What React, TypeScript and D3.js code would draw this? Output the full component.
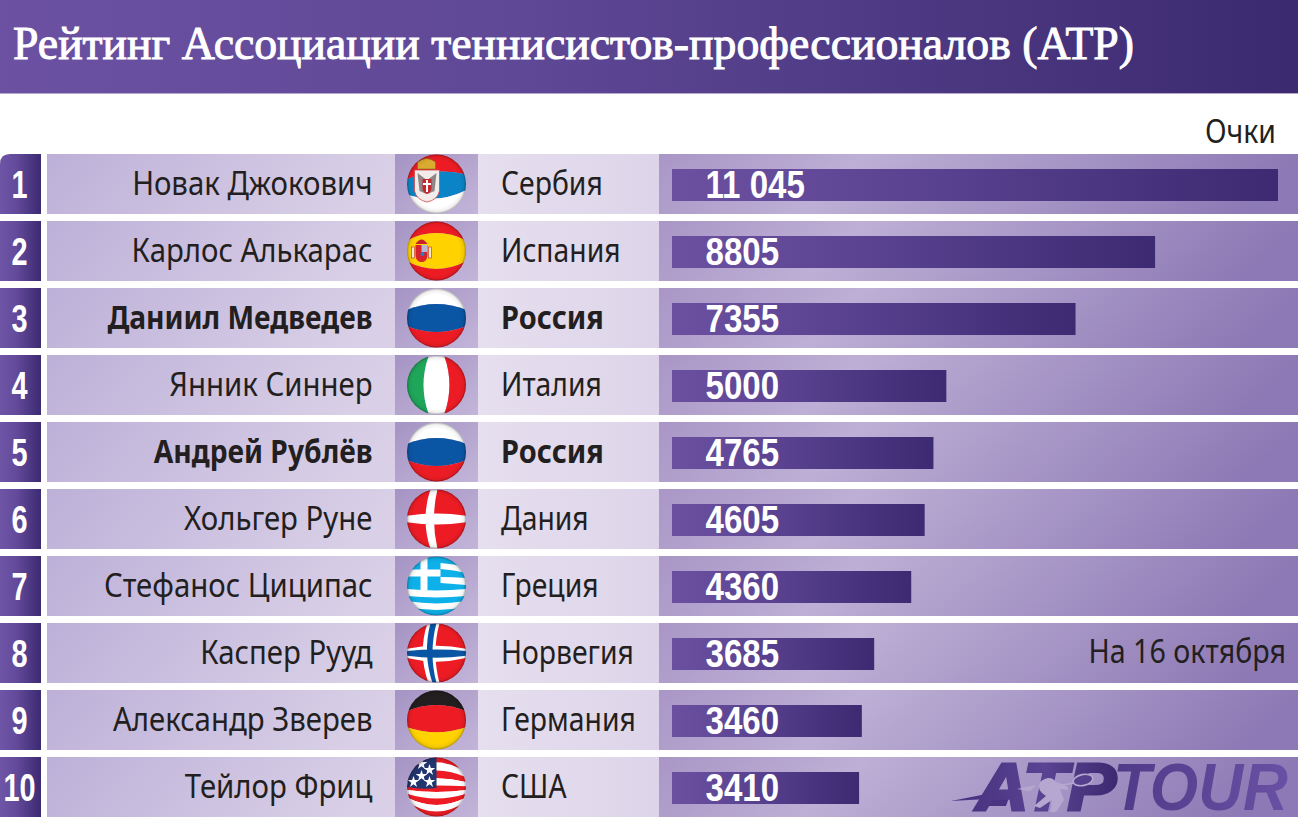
import * as d3 from 'd3';

const ranks = [1, 2, 3, 4, 5, 6, 7, 8, 9, 10];
const names = ['Новак Джокович', 'Карлос Алькарас', 'Даниил Медведев', 'Янник Синнер', 'Андрей Рублёв', 'Хольгер Руне', 'Стефанос Циципас', 'Каспер Рууд', 'Александр Зверев', 'Тейлор Фриц'];
const countries = ['Сербия', 'Испания', 'Россия', 'Италия', 'Россия', 'Дания', 'Греция', 'Норвегия', 'Германия', 'США'];
const points = [11045, 8805, 7355, 5000, 4765, 4605, 4360, 3685, 3460, 3410];
const pointLabels = ['11 045', '8805', '7355', '5000', '4765', '4605', '4360', '3685', '3460', '3410'];
const flags = ['rs', 'es', 'ru', 'it', 'ru', 'dk', 'gr', 'no', 'de', 'us'];

const TITLE = 'Рейтинг Ассоциации теннисистов-профессионалов (ATP)';
const SANS = "'Noto Sans', sans-serif";
const NUM = "'Liberation Sans', sans-serif";
const INK = '#231f20';
const R = 29.5;

const x = d3.scaleLinear().domain([0, 11045]).range([672, 1278]);
const y = d3.scaleBand<number>().domain(ranks).range([154, 817]).paddingInner(7 / 67);

// sphere-like horizontal band between two levels (-1..1 of radius)
function band(v0: number, v1: number) {
  const edge = (v: number) => v * R * 0.72;
  const ctrl = (v: number) => 2 * v * R * 1.22 - edge(v);
  return `M${-R},${edge(v0)}Q0,${ctrl(v0)} ${R},${edge(v0)}L${R},${edge(v1)}Q0,${ctrl(v1)} ${-R},${edge(v1)}Z`;
}

function Bands({ colors, stops }: { colors: string[]; stops: number[] }) {
  return (
    <>
      {colors.map((c, i) => (
        <path key={i} d={band(stops[i], stops[i + 1])} fill={c} />
      ))}
    </>
  );
}

function FlagArt({ code }: { code: string }) {
  const star = d3.symbol().type(d3.symbolStar).size(42)() as string;
  if (code === 'ru') return <Bands colors={['#fff', '#0a55a4', '#ed1c24']} stops={[-1.6, -0.39, 0.39, 1.6]} />;
  if (code === 'de') return <Bands colors={['#231f20', '#ed1c24', '#ffd200']} stops={[-1.6, -0.42, 0.34, 1.6]} />;
  if (code === 'it') return <g transform="rotate(-90)"><Bands colors={['#1fa65a', '#fff', '#ed1c24']} stops={[-1.6, -0.36, 0.36, 1.6]} /></g>;
  if (code === 'es') {
    return (
      <>
        <Bands colors={['#ed1c24', '#ffd200', '#ed1c24']} stops={[-1.6, -0.5, 0.5, 1.6]} />
        <path d="M-21,-6H-9V5Q-10,11 -15,11Q-20,11 -21,5Z" fill="#d8232a" />
        <rect x={-15} y={-6} width={6} height={7} fill="#b9b6d6" />
        <circle cx={-14} cy={3} r={2} fill="#2a7ec0" />
        <rect x={-25} y={-4} width={3} height={11} fill="#f3ead2" stroke="#c8202a" strokeWidth={0.6} />
        <rect x={-8} y={-4} width={3} height={11} fill="#f3ead2" stroke="#c8202a" strokeWidth={0.6} />
        <path d="M-21,-7Q-15,-16 -9,-7Z" fill="#c8202a" />
      </>
    );
  }
  if (code === 'rs') {
    return (
      <>
        <g transform="rotate(-5)">
          <Bands colors={['#ed1c24', '#0a84c6', '#fff']} stops={[-1.6, -0.34, 0.4, 1.6]} />
        </g>
        <path d="M-22,-14H3V7Q1,16 -9.5,18Q-20,16 -22,7Z" fill="#f1ecea" stroke="#d9454a" strokeWidth={0.8} />
        <path d="M-19,-11L-11,-5L-10,10L-17,7Z" fill="#8f8687" />
        <path d="M0,-11L-8,-5L-9,10L-2,7Z" fill="#8f8687" />
        <path d="M-14,-5H-5V5Q-6,9 -9.5,10Q-13,9 -14,5Z" fill="#c6262c" />
        <path d="M-10.5,-4H-8.5V-1H-5.5V1H-8.5V8H-10.5V1H-13.5V-1H-10.5Z" fill="#fff" />
        <path d="M-19,-15L-19,-22Q-10,-29 -1,-22L-1,-15Z" fill="#d9ab2f" stroke="#8a6a1d" strokeWidth={0.6} />
      </>
    );
  }
  if (code === 'dk') {
    return (
      <>
        <rect x={-R} y={-R} width={2 * R} height={2 * R} fill="#ed1c24" />
        <path d="M-6,-30Q-16,0 -6,30H1Q-6,0 1,-30Z" fill="#fff" />
        <path d={band(-0.15, 0.15)} fill="#fff" />
      </>
    );
  }
  if (code === 'no') {
    return (
      <>
        <rect x={-R} y={-R} width={2 * R} height={2 * R} fill="#ed1c24" />
        <path d="M-9,-30Q-19,0 -8,30H3Q-5,0 3,-30Z" fill="#fff" />
        <path d={band(-0.2, 0.24)} fill="#fff" />
        <path d="M-6,-30Q-14,0 -4,30H0Q-8,0 0,-30Z" fill="#0a55a4" />
        <path d={band(-0.1, 0.13)} fill="#0a55a4" />
      </>
    );
  }
  if (code === 'gr') {
    return (
      <>
        <rect x={-R} y={-R} width={2 * R} height={2 * R} fill="#0db0e8" />
        <path d="M4,-23Q18,-22 30,-19V-13Q18,-16 4,-17Z" fill="#fff" />
        <path d="M4,-9Q18,-9 30,-8V-1Q18,-2 4,-3Z" fill="#fff" />
        <path d="M-30,3Q0,6 30,3V10Q0,13 -30,10Z" fill="#fff" />
        <path d="M-30,15Q0,20 30,15V21Q0,27 -30,21Z" fill="#fff" />
        <path d="M-16,-30H-9V-16.500H4V-9.500H-9V4H-16V-9.500H-30V-16.500H-16Z" fill="#fff" />
      </>
    );
  }
  // us
  const stripeStops = [-1.6, -0.68, -0.46, -0.24, -0.04, 0.14, 0.32, 0.5, 0.68, 0.86, 1.6];
  const stripeColors = stripeStops.slice(1).map((_, i) => (i % 2 === 0 ? '#ed1c24' : '#fff'));
  const stars = [[-23, -5], [-15, -11], [-7, -5], [-7, -17], [-15, -23]];
  return (
    <>
      <rect x={-R} y={-R} width={2 * R} height={2 * R} fill="#fff" />
      <Bands colors={stripeColors} stops={stripeStops} />
      <path d="M-30,-30H0V1Q-15,3 -30,0Z" fill="#21356e" />
      {stars.map(([sx, sy], i) => (
        <path key={i} d={star} fill="#fff" transform={`translate(${sx},${sy})`} />
      ))}
    </>
  );
}

function Flag({ code, cy }: { code: string; cy: number }) {
  return (
    <g transform={`translate(436.5,${cy})`}>
      <g clipPath="url(#flagClip)">
        <FlagArt code={code} />
      </g>
      <circle r={R} fill="url(#ballShade)" />
    </g>
  );
}

function Label({ tx, ty, sx, anchor, children, ...rest }: any) {
  return (
    <text transform={`translate(${tx},${ty}) scale(${sx},1)`} textAnchor={anchor} {...rest}>{children}</text>
  );
}

function AtpLogo() {
  return (
    <g fontFamily="'Liberation Sans', sans-serif" fontWeight={700} fontStyle="italic">
      <path d="M951,801L1012,789L1006,806L985,806L987,799Z" fill="#4a3482" />
      <text x={976} y={810} fontSize={66} fill="url(#atpDark)" stroke="url(#atpDark)" strokeWidth={3} textLength={140} lengthAdjust="spacingAndGlyphs">ATP</text>
      <text x={1113} y={810} fontSize={66} fill="url(#tourGrad)" textLength={175} lengthAdjust="spacingAndGlyphs">TOUR</text>
      {/* player cut out of the letters */}
      <path d="M1017,789L1036,785L1030,791Z" fill="#b6a7d0" />
      <path d="M1040,782Q1050,774 1056,782Q1070,786 1068,790L1060,789L1064,800L1056,812L1050,812L1052,800L1040,808L1034,806L1046,796Q1036,790 1040,782Z" fill="#b6a7d0" />
      <path d="M1062,785L1074,783" stroke="#b6a7d0" strokeWidth={1.6} fill="none" />
      <ellipse cx={1083} cy={780} rx={10} ry={5.5} transform="rotate(-12 1083 780)" fill="#54408c" stroke="#b6a7d0" strokeWidth={1.6} />
    </g>
  );
}

export default function App() {
  return (
    <svg width={1298} height={817} style={{ position: 'absolute', left: 0, top: 0, display: 'block' }}>
      <defs>
        <linearGradient id="titleGrad" x1="0" x2="1" y1="0" y2="0">
          <stop offset="0" stopColor="#6c51a2" />
          <stop offset="0.4" stopColor="#5f4896" />
          <stop offset="1" stopColor="#3b2a70" />
        </linearGradient>
        <linearGradient id="rankGrad" x1="0" x2="1" y1="0" y2="0">
          <stop offset="0" stopColor="#6f55a5" />
          <stop offset="0.4" stopColor="#634a9a" />
          <stop offset="1" stopColor="#3c2a72" />
        </linearGradient>
        <linearGradient id="barGrad" x1="0" x2="1" y1="0" y2="0">
          <stop offset="0" stopColor="#6b50a0" />
          <stop offset="0.3" stopColor="#604796" />
          <stop offset="1" stopColor="#3c2a72" />
        </linearGradient>
        <linearGradient id="nameGrad" x1="0" x2="1" y1="0" y2="0.15">
          <stop offset="0" stopColor="#bdb0d8" />
          <stop offset="1" stopColor="#d9d0e7" />
        </linearGradient>
        <linearGradient id="flagGrad" x1="0" x2="1" y1="0" y2="1">
          <stop offset="0" stopColor="#a594c4" />
          <stop offset="1" stopColor="#c3b5d9" />
        </linearGradient>
        <linearGradient id="countryGrad" x1="0" x2="1" y1="0" y2="0">
          <stop offset="0" stopColor="#e6dfef" />
          <stop offset="1" stopColor="#ddd4e9" />
        </linearGradient>
        <linearGradient id="pointsGrad" x1="0" x2="1" y1="0" y2="0.1">
          <stop offset="0" stopColor="#a996c6" />
          <stop offset="0.32" stopColor="#bdafd5" />
          <stop offset="1" stopColor="#8d79b5" />
        </linearGradient>
        <linearGradient id="atpDark" gradientUnits="userSpaceOnUse" x1="975" x2="1115" y1="0" y2="0">
          <stop offset="0" stopColor="#4b3583" />
          <stop offset="0.5" stopColor="#5a4392" />
          <stop offset="1" stopColor="#3c2a72" />
        </linearGradient>
        <linearGradient id="tourGrad" gradientUnits="userSpaceOnUse" x1="1115" x2="1288" y1="0" y2="0">
          <stop offset="0" stopColor="#4f3a88" />
          <stop offset="1" stopColor="#6a50a4" />
        </linearGradient>
        <radialGradient id="ballShade">
          <stop offset="0.8" stopColor="#000" stopOpacity={0} />
          <stop offset="0.93" stopColor="#000" stopOpacity={0.06} />
          <stop offset="1" stopColor="#000" stopOpacity={0.32} />
        </radialGradient>
        <clipPath id="flagClip">
          <circle r={R} />
        </clipPath>
      </defs>

      <rect width={1298} height={93} fill="url(#titleGrad)" />
      <rect y={93} width={1298} height={1} fill="#b5a8d0" />
      <text x={13} y={58.500} fontFamily="'Liberation Serif', serif" fontSize={46} fill="#fff" stroke="#fff" strokeWidth={1} textLength={1121} lengthAdjust="spacingAndGlyphs">{TITLE}</text>

      <text x={1205} y={143} fontFamily={SANS} fontSize={33} fill={INK} textLength={71} lengthAdjust="spacingAndGlyphs">Очки</text>

      {ranks.map((rank, i) => {
        const top = y(rank) as number;
        const h = y.bandwidth();
        const mid = top + h / 2;
        const strong = countries[i] === 'Россия';
        return (
          <g key={rank}>
            <path d={`M0,${top + (i === 0 ? 10 : 0)}Q0,${top} ${i === 0 ? 10 : 0},${top}H41V${top + h}H0Z`} fill="url(#rankGrad)" />
            <Label tx={19.500} ty={mid + 14} sx={0.76} anchor="middle" fontFamily={NUM} fontWeight={700} fontSize={38} fill="#fff">{rank}</Label>

            <rect x={47} y={top} width={348} height={h} fill="url(#nameGrad)" />
            <rect x={395} y={top} width={83} height={h} fill="url(#flagGrad)" />
            <rect x={478} y={top} width={181} height={h} fill="url(#countryGrad)" />
            <rect x={659} y={top} width={639} height={h} fill="url(#pointsGrad)" />

            <Label tx={372.500} ty={mid + 10.500} sx={strong ? 0.855 : 0.89} anchor="end" fontFamily={SANS} fontWeight={strong ? 700 : 400} fontSize={33} fill={INK}>{names[i]}</Label>
            <Label tx={501} ty={mid + 10.500} sx={strong ? 0.906 : 0.885} anchor="start" fontFamily={SANS} fontWeight={strong ? 700 : 400} fontSize={32} fill={INK}>{countries[i]}</Label>

            <Flag code={flags[i]} cy={mid} />

            <rect x={x(0)} y={top + 15} width={x(points[i]) - x(0)} height={32} fill="url(#barGrad)" />
            <Label tx={705.500} ty={top + 44} sx={0.87} anchor="start" fontFamily={NUM} fontWeight={700} fontSize={38} fill="#fff">{pointLabels[i]}</Label>
          </g>
        );
      })}

      <Label tx={1286} ty={662.500} sx={0.868} anchor="end" fontFamily={SANS} fontSize={33} fill={INK}>На 16 октября</Label>
      <AtpLogo />
    </svg>
  );
}
